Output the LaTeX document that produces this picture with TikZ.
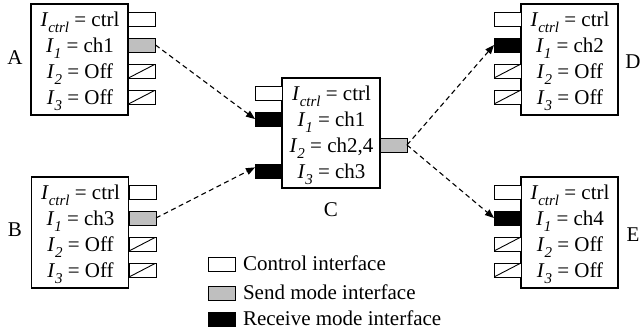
\documentclass[tikz,border=0pt]{standalone}
\usepackage{fontspec}
\setmainfont{Liberation Serif}
\usetikzlibrary{arrows.meta}
% interface assignment: italic I with an italic subscript, then its value
\newcommand\ifc[2]{\textit{I}\raisebox{-6pt}{\fontsize{15}{15}\selectfont\textit{#1}}\ =\ #2}

\begin{document}
\begin{tikzpicture}[x=1pt,y=-1pt,
  every node/.style={inner sep=0pt, outer sep=0pt, font=\fontsize{21}{25}\selectfont},
  unit/.style={draw, line width=1.1pt, minimum width=97pt, minimum height=111pt},
  row/.style={anchor=base},
  port/.style={draw, line width=0.9pt, minimum width=27pt, minimum height=14pt},
  ctrlport/.style={port, fill=white},
  sendport/.style={port, fill=black!25},
  recvport/.style={port, fill=black},
  offport/.style={port, fill=white, path picture={\draw[line width=0.9pt]
      (path picture bounding box.south west) -- (path picture bounding box.north east);}},
  link/.style={line width=1.1pt, dash pattern=on 5pt off 3.5pt,
      -{Triangle[length=9pt,width=7pt]}},
]
\useasboundingbox (0,0) rectangle (640,335);

% ---- unit A ----
\node[unit] (A) at (79.5,59.5) {};
\node (Alab) at (15,58) {A};
\node[row] (Ar0) at (80,26)  {\ifc{ctrl}{ctrl}};
\node[row] (Ar1) at (80,52)  {\ifc{1}{ch1}};
\node[row] (Ar2) at (80,78)  {\ifc{2}{Off}};
\node[row] (Ar3) at (80,104) {\ifc{3}{Off}};
\node[ctrlport] (Ap0) at (142,19) {};
\node[sendport] (Ap1) at (142,45) {};
\node[offport]  (Ap2) at (142,71) {};
\node[offport]  (Ap3) at (142,97) {};

% ---- unit B ----
\node[unit] (B) at (80,232.5) {};
\node (Blab) at (15,230) {B};
\node[row] (Br0) at (80.5,199) {\ifc{ctrl}{ctrl}};
\node[row] (Br1) at (80.5,225) {\ifc{1}{ch3}};
\node[row] (Br2) at (80.5,251) {\ifc{2}{Off}};
\node[row] (Br3) at (80.5,277) {\ifc{3}{Off}};
\node[ctrlport] (Bp0) at (142.5,192) {};
\node[sendport] (Bp1) at (142.5,218) {};
\node[offport]  (Bp2) at (142.5,244) {};
\node[offport]  (Bp3) at (142.5,270) {};

% ---- unit C ----
\node[unit, minimum width=98pt, minimum height=110pt] (C) at (331,133) {};
\node (Clab) at (331,210) {C};
\node[row] (Cr0) at (331.5,100) {\ifc{ctrl}{ctrl}};
\node[row] (Cr1) at (331.5,126) {\ifc{1}{ch1}};
\node[row] (Cr2) at (331.5,152) {\ifc{2}{ch2,4}};
\node[row] (Cr3) at (331.5,178) {\ifc{3}{ch3}};
\node[ctrlport] (Cp0) at (268.5,93)  {};
\node[recvport] (Cp1) at (268.5,119) {};
\node[sendport] (Cp2) at (393.5,145) {};
\node[recvport] (Cp3) at (268.5,171) {};

% ---- unit D ----
\node[unit] (D) at (569.5,59.5) {};
\node (Dlab) at (633,62) {D};
\node[row] (Dr0) at (570,26)  {\ifc{ctrl}{ctrl}};
\node[row] (Dr1) at (570,52)  {\ifc{1}{ch2}};
\node[row] (Dr2) at (570,78)  {\ifc{2}{Off}};
\node[row] (Dr3) at (570,104) {\ifc{3}{Off}};
\node[ctrlport] (Dp0) at (507.5,19) {};
\node[recvport] (Dp1) at (507.5,45) {};
\node[offport]  (Dp2) at (507.5,71) {};
\node[offport]  (Dp3) at (507.5,97) {};

% ---- unit E ----
\node[unit] (E) at (569.5,232.5) {};
\node (Elab) at (633,235) {E};
\node[row] (Er0) at (570,199) {\ifc{ctrl}{ctrl}};
\node[row] (Er1) at (570,225) {\ifc{1}{ch4}};
\node[row] (Er2) at (570,251) {\ifc{2}{Off}};
\node[row] (Er3) at (570,277) {\ifc{3}{Off}};
\node[ctrlport] (Ep0) at (507.5,192) {};
\node[recvport] (Ep1) at (507.5,218) {};
\node[offport]  (Ep2) at (507.5,244) {};
\node[offport]  (Ep3) at (507.5,270) {};

% ---- channel links ----
\draw[link] (Ap1.east) -- (Cp1.west);
\draw[link] (Bp1.east) -- (Cp3.165);
\draw[link] (Cp2.east) -- (Dp1.west);
\draw[link] (Cp2.east) -- (Ep1.west);

% ---- legend ----
\node[ctrlport] (L0) at (221.5,264) {};
\node[sendport] (L1) at (221.5,293) {};
\node[recvport] (L2) at (221.5,319) {};
\node[anchor=base west] (L0t) at (243,270) {Control interface};
\node[anchor=base west] (L1t) at (243,299) {Send mode interface};
\node[anchor=base west] (L2t) at (243,325) {Receive mode interface};
\end{tikzpicture}
\end{document}
